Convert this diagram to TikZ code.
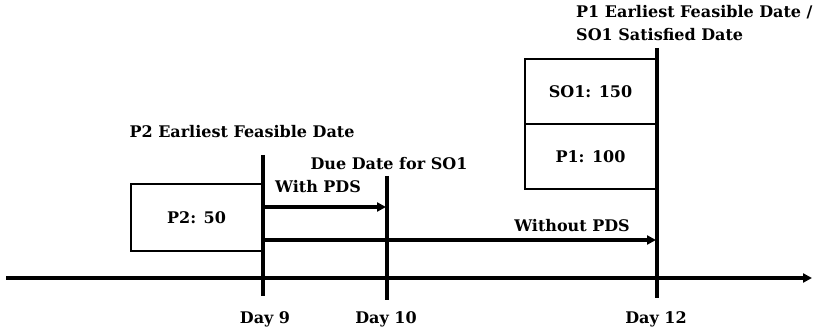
\documentclass[tikz,border=0pt]{standalone}
\usepackage{fontspec}
\setmainfont{DejaVu Serif}
\usetikzlibrary{arrows.meta}

\begin{document}
\begin{tikzpicture}[x=1pt,y=-1pt,
  lbl/.style={font=\bfseries\fontsize{16}{23}\selectfont,inner sep=1pt},
  tick/.style={line width=3.5pt},
  arr/.style={line width=3.5pt,-{Triangle[length=9pt,width=9pt]}},
  box/.style={draw,line width=2pt,minimum width=131pt,font=\bfseries\fontsize{16}{20}\selectfont}]
  \useasboundingbox (0,0) rectangle (818,328);
  % time axis
  \coordinate (a0) at (6,278); \coordinate (a1) at (812,278);
  \draw[arr] (a0)--(a1);
  % day lines
  \coordinate (d9t) at (263,155); \coordinate (d9b) at (263,296);
  \coordinate (d10t) at (387,176); \coordinate (d10b) at (387,300);
  \coordinate (d12t) at (657,48); \coordinate (d12b) at (657,298);
  \draw[tick] (d9t)--(d9b);
  \draw[tick] (d10t)--(d10b);
  \draw[tick] (d12t)--(d12b);
  % blocks
  \node[box,minimum height=67pt,anchor=north east] (p2) at (263,183) {P2: 50};
  \node[box,minimum height=65pt,anchor=north east] (so1) at (657,58) {SO1: 150};
  \node[box,minimum height=65pt,anchor=north,yshift=2pt] (p1) at (so1.south) {P1: 100};
  % planning arrows
  \coordinate (w0) at (263,207); \coordinate (w1) at (386,207);
  \coordinate (n0) at (263,240); \coordinate (n1) at (656,240);
  \draw[arr] (w0)--(w1);
  \draw[arr] (n0)--(n1);
  % labels
  \node[lbl] (lw) at (318,187) {With PDS};
  \node[lbl] (ln) at (572,226) {Without PDS};
  \node[lbl] (lp2) at (242,132) {P2 Earliest Feasible Date};
  \node[lbl] (ldue) at (389,164) {Due Date for SO1};
  \node[lbl,align=left,anchor=north west] (lp1) at (575,4) {P1 Earliest Feasible Date /\\SO1 Satisfied Date};
  \node[lbl] (l9) at (265,319) {Day 9};
  \node[lbl] (l10) at (386,319) {Day 10};
  \node[lbl] (l12) at (656,319) {Day 12};
\end{tikzpicture}
\end{document}
